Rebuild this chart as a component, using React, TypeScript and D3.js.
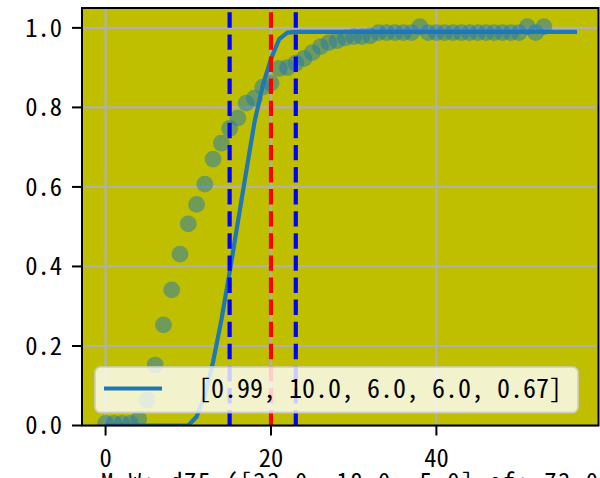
import React from 'react';
import * as d3 from 'd3';

// observed values, one per integer x starting at 0
const obsY = [
  0.005, 0.005, 0.005, 0.005, 0.016, 0.064, 0.152, 0.253, 0.341, 0.431,
  0.507, 0.556, 0.607, 0.670, 0.710, 0.747, 0.773, 0.811, 0.823, 0.851,
  0.861, 0.898, 0.900, 0.911, 0.923, 0.938, 0.953, 0.963, 0.968, 0.975,
  0.978, 0.978, 0.980, 0.988, 0.988, 0.988, 0.988, 0.988, 1.003, 0.988,
  0.988, 0.988, 0.988, 0.988, 0.988, 0.988, 0.988, 0.988, 0.988, 0.988,
  0.988, 1.003, 0.988, 1.003,
];

// fitted curve, one per integer x starting at 0
const fitY = [
  0, 0, 0, 0, 0, 0, 0, 0, 0, 0,
  0, 0.022, 0.075, 0.16, 0.265, 0.385, 0.512, 0.638, 0.762, 0.855,
  0.922, 0.972, 0.988, 0.99, 0.99, 0.99, 0.99, 0.99, 0.99, 0.99,
  0.99, 0.99, 0.99, 0.99, 0.99, 0.99, 0.99, 0.99, 0.99, 0.99,
  0.99, 0.99, 0.99, 0.99, 0.99, 0.99, 0.99, 0.99, 0.99, 0.99,
  0.99, 0.99, 0.99, 0.99, 0.99, 0.99, 0.99, 0.99,
];

const redLines = [20];
const blueLines = [15, 23];
const xTicks = [0, 20, 40];
const yTicks = [0, 0.2, 0.4, 0.6, 0.8, 1.0];
const legendLabel = '[0.99, 10.0, 6.0, 6.0, 0.67]';
const xLabel = 'M_W: d75 ([23.0, 18.0, 5.0] ef: 73.0';

const W = 600;
const H = 478;
const FONT = "'Noto Sans Mono CJK JP', 'DejaVu Sans Mono', monospace";
const C0 = '#1f77b4';

const App: React.FC = () => {
  const left = 82, right = 598.5, top = 8, bottom = 425.5;
  const x = d3.scaleLinear().domain([-2.85, 59.6]).range([left, right]);
  const y = d3.scaleLinear().domain([0, 1.05]).range([bottom, top]);

  const line = d3.line<number>()
    .x((_, i) => x(i))
    .y(d => y(d));

  const fmt = d3.format('.1f');

  return (
    <svg width={W} height={H} style={{ position: 'absolute', left: 0, top: 0, display: 'block' }}>
      <defs>
        <clipPath id="plot">
          <rect x={left} y={top} width={right - left} height={bottom - top} />
        </clipPath>
      </defs>
      <rect x={0} y={0} width={W} height={H} fill="#fff" />
      <rect x={left} y={top} width={right - left} height={bottom - top} fill="#bfbf00" />

      {/* grid */}
      {xTicks.map(t => (
        <line key={'gx' + t} x1={x(t)} x2={x(t)} y1={top} y2={bottom} stroke="#b0b0b0" strokeWidth={2.2} />
      ))}
      {yTicks.map(t => (
        <line key={'gy' + t} x1={left} x2={right} y1={y(t)} y2={y(t)} stroke="#b0b0b0" strokeWidth={2.2} />
      ))}

      <g clipPath="url(#plot)">
        {obsY.map((v, i) => (
          <circle key={'d' + i} cx={x(i)} cy={y(v)} r={8.4} fill={C0} fillOpacity={0.5} />
        ))}
        <path d={line(fitY) || ''} fill="none" stroke={C0} strokeWidth={4.2} />
        {redLines.map(v => (
          <line key={'r' + v} x1={x(v)} x2={x(v)} y1={bottom} y2={top}
            stroke="#ff0000" strokeWidth={4.2} strokeDasharray="15.4,6.7" />
        ))}
        {blueLines.map(v => (
          <line key={'b' + v} x1={x(v)} x2={x(v)} y1={bottom} y2={top}
            stroke="#0000ff" strokeWidth={4.2} strokeDasharray="15.4,6.7" />
        ))}
      </g>

      {/* legend */}
      <rect x={95} y={367} width={483} height={45.5} rx={5.5} fill="#fff" fillOpacity={0.8}
        stroke="#cccccc" strokeOpacity={0.8} strokeWidth={2} />
      <line x1={104} x2={162} y1={388.5} y2={388.5} stroke={C0} strokeWidth={4.2} />
      <text x={198} y={398} fontFamily={FONT} fontSize={26} fill="#000">{legendLabel}</text>

      {/* spines */}
      <rect x={left} y={top} width={right - left} height={bottom - top} fill="none" stroke="#000" strokeWidth={2} />

      {/* x ticks */}
      {xTicks.map(t => (
        <g key={'xt' + t}>
          <line x1={x(t)} x2={x(t)} y1={bottom} y2={bottom + 10} stroke="#000" strokeWidth={2} />
          <text x={x(t)} y={467} textAnchor="middle" fontFamily={FONT} fontSize={24.5} fill="#000">{t}</text>
        </g>
      ))}
      {/* y ticks */}
      {yTicks.map(t => (
        <g key={'yt' + t}>
          <line x1={left - 10} x2={left} y1={y(t)} y2={y(t)} stroke="#000" strokeWidth={2} />
          <text x={62} y={y(t)} dy="0.36em" textAnchor="end" fontFamily={FONT} fontSize={24.5} fill="#000">{fmt(t)}</text>
        </g>
      ))}

      <text x={101} y={491} fontFamily={FONT} fontSize={24.5} fill="#000"
        textLength={497} lengthAdjust="spacing">{xLabel}</text>
    </svg>
  );
};

export default App;
